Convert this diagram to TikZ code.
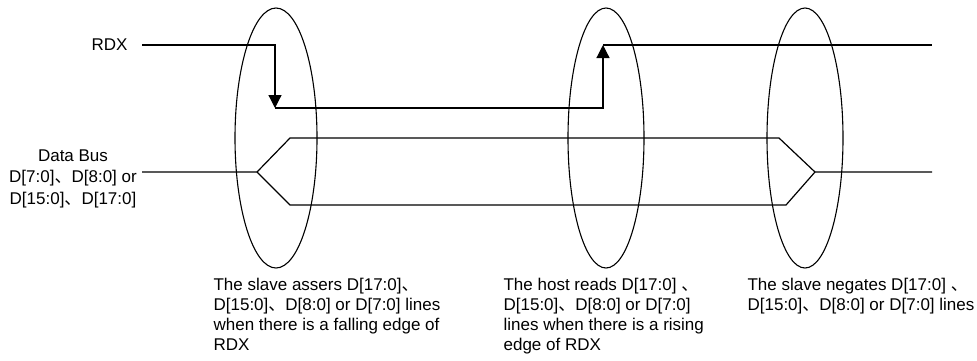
\documentclass[tikz,border=0pt]{standalone}
\usepackage{fontspec}
\setmainfont{Liberation Sans}
\newfontfamily\cjk{Noto Sans CJK SC}
\usepackage{tikz}
\usetikzlibrary{arrows.meta}
\usetikzlibrary{shapes.geometric}

\newcommand{\dun}{{\cjk 、}}

\begin{document}
\begin{tikzpicture} [x=1pt, y=-1pt, line width=1.2pt,
  sig/.style={line width=1.2pt},
  edgetip/.style={-{Triangle[length=13pt,width=13pt]}},
  window/.style={ellipse, draw, line width=1.1pt, inner sep=0, minimum width=#1, minimum height=260},
  note/.style={anchor=north west, align=left, inner sep=0, font=\fontsize{17}{20}\selectfont}]
\useasboundingbox (0,0) rectangle (977,360);

% observation windows
\foreach \cx/\wd/\nm in {276/82/fall, 606/76/rise, 805/76/neg} \node[window=\wd] (\nm) at (\cx,138) {};

% RDX
\node[anchor=east, inner sep=0, font=\fontsize{17}{20}\selectfont] (rdx) at (128,45) {RDX};
\coordinate (rdxa) at (142,45);
\coordinate (rdxb) at (275,108);
\coordinate (rdxc) at (603,45);
\coordinate (rdxd) at (932,45);
\draw[sig,edgetip] (rdxa) -| (rdxb);
\draw[sig,edgetip] (rdxb) -| (rdxc);
\draw[sig] (rdxc) -- (rdxd);

% data bus
\node[anchor=north, align=center, inner sep=0, font=\fontsize{17}{21.5}\selectfont] (bus) at (73,149) {Data Bus\\D[7:0]\dun D[8:0] or\\D[15:0]\dun D[17:0]};
\coordinate (busa) at (142,172);
\coordinate (busl) at (257,172);
\coordinate (busr) at (815,172);
\coordinate (busz) at (932,172);
\draw[sig] (busa) -- (busl) -- (290,138) -- (779,138) -- (busr) -- (busz);
\draw[sig] (busl) -- (290,205) -- (786,205) -- (busr);

% notes
\node[note] (nfall) at (213,278) {The slave assers D[17:0]\dun\\D[15:0]\dun D[8:0] or D[7:0] lines\\when there is a falling edge of\\RDX};
\node[note] (nrise) at (503,278) {The host reads D[17:0] \dun\\D[15:0]\dun D[8:0] or D[7:0]\\lines when there is a rising\\edge of RDX};
\node[note] (nneg) at (747,278) {The slave negates D[17:0] \dun\\D[15:0]\dun D[8:0] or D[7:0] lines};
\end{tikzpicture}
\end{document}
